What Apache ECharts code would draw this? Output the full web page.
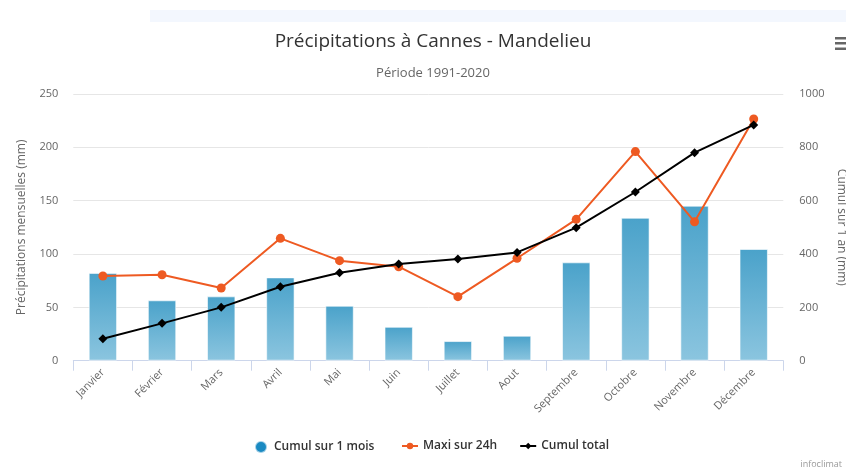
<!DOCTYPE html>
<html>
<head>
<meta charset="utf-8">
<script src="https://cdn.jsdelivr.net/npm/echarts@6/dist/echarts.min.js"></script>
<style>
  html, body { margin: 0; padding: 0; background: #fff; }
  #chart { width: 846px; height: 471px; }
</style>
</head>
<body>
<div id="chart"></div>
<script>
// Monthly precipitation normals, Cannes - Mandelieu, 1991-2020
const months = ['Janvier', 'Février', 'Mars', 'Avril', 'Mai', 'Juin', 'Juillet', 'Aout', 'Septembre', 'Octobre', 'Novembre', 'Décembre'];
const monthlyTotal = [82.3, 56.6, 60.3, 78.1, 51.5, 31.8, 18.4, 23.4, 92.2, 134.0, 145.3, 104.7];  // mm
const max24h = [79.4, 80.6, 68.2, 114.7, 93.8, 88.1, 60.0, 96.0, 132.5, 196.0, 130.3, 226.6];      // mm
const runningTotal = [82.5, 140, 200, 277.5, 330, 362.6, 381, 406, 498.8, 632.6, 780, 884];          // mm
const leftTicks = { min: 0, max: 250, interval: 50 };
const rightTicks = { min: 0, max: 1000, interval: 200 };

const FONT = '"Open Sans", "DejaVu Sans", sans-serif';
const chart = echarts.init(document.getElementById('chart'), null, { renderer: 'canvas' });

const legendText = { fontSize: 12, fontWeight: 600, color: '#333', fontFamily: FONT };

chart.setOption({
  animation: false,
  textStyle: { fontFamily: FONT },
  title: [
    { text: 'Précipitations à Cannes - Mandelieu', left: 428, top: 27, textAlign: 'center',
      textStyle: { fontSize: 19, fontWeight: 'normal', color: '#333', fontFamily: FONT } },
    { text: 'Période 1991-2020', left: 428, top: 62, textAlign: 'center',
      textStyle: { fontSize: 13, fontWeight: 'normal', color: '#666', fontFamily: FONT } }
  ],
  graphic: [
    { type: 'rect', shape: { x: 150, y: 10, width: 696, height: 12 }, style: { fill: '#f3f7fe' }, silent: true },
    { type: 'rect', shape: { x: 835, y: 37, width: 11, height: 2.5 }, style: { fill: '#666' }, silent: true },
    { type: 'rect', shape: { x: 835, y: 42, width: 11, height: 2.5 }, style: { fill: '#666' }, silent: true },
    { type: 'rect', shape: { x: 835, y: 47.5, width: 11, height: 2.5 }, style: { fill: '#666' }, silent: true },
    { type: 'text', right: 4, bottom: 2, style: { text: 'infoclimat', fontSize: 9, fill: '#999', fontFamily: FONT } }
  ],
  grid: { left: 73.3, right: 62.7, top: 94, bottom: 110.3, containLabel: false, outerBoundsMode: 'none' },
  legend: [
    {
      left: 249, bottom: 12,
      itemWidth: 16, itemHeight: 12,
      textStyle: legendText,
      data: [{ name: 'Cumul sur 1 mois', icon: 'circle', itemStyle: { color: '#1a8ac2' } }]
    },
    {
      left: 396, bottom: 14,
      itemWidth: 16, itemHeight: 8, itemGap: 22,
      textStyle: legendText,
      data: ['Maxi sur 24h', 'Cumul total']
    }
  ],
  xAxis: {
    type: 'category',
    data: months,
    boundaryGap: true,
    axisLine: { lineStyle: { color: '#ccd6eb', width: 1 } },
    axisTick: { show: true, length: 10, lineStyle: { color: '#ccd6eb' } },
    axisLabel: { rotate: 45, fontSize: 11, color: '#666', margin: 10, interval: 0, fontFamily: FONT },
    splitLine: { show: false }
  },
  yAxis: [
    {
      type: 'value', position: 'left',
      min: leftTicks.min, max: leftTicks.max, interval: leftTicks.interval,
      name: 'Précipitations mensuelles (mm)', nameLocation: 'middle', nameGap: 46, nameRotate: 90,
      nameTextStyle: { fontSize: 12, color: '#666', fontFamily: FONT },
      axisLine: { show: false }, axisTick: { show: false },
      axisLabel: { fontSize: 11, color: '#666', margin: 15, fontFamily: FONT },
      splitLine: { lineStyle: { color: '#e6e6e6', width: 1 } }
    },
    {
      type: 'value', position: 'right',
      min: rightTicks.min, max: rightTicks.max, interval: rightTicks.interval,
      name: 'Cumul sur 1 an (mm)', nameLocation: 'middle', nameGap: 50, nameRotate: -90,
      nameTextStyle: { fontSize: 12, color: '#666', fontFamily: FONT },
      axisLine: { show: false }, axisTick: { show: false },
      axisLabel: { fontSize: 11, color: '#666', margin: 16, fontFamily: FONT, formatter: v => String(v) },
      splitLine: { show: false }
    }
  ],
  series: [
    {
      name: 'Cumul sur 1 mois', type: 'bar', yAxisIndex: 0,
      data: monthlyTotal, barWidth: '48%',
      itemStyle: {
        color: new echarts.graphic.LinearGradient(0, 0, 0, 1, [
          { offset: 0, color: '#4aa2ca' },
          { offset: 1, color: '#8bc5df' }
        ]),
        borderColor: 'rgba(255,255,255,0.6)', borderWidth: 1
      },
      z: 1
    },
    {
      name: 'Maxi sur 24h', type: 'line', yAxisIndex: 0,
      data: max24h,
      color: '#ee5a22',
      lineStyle: { color: '#ee5a22', width: 2 },
      symbol: 'circle', symbolSize: 9,
      itemStyle: { color: '#ee5a22' },
      z: 3
    },
    {
      name: 'Cumul total', type: 'line', yAxisIndex: 1,
      data: runningTotal,
      color: '#000',
      lineStyle: { color: '#000', width: 2 },
      symbol: 'diamond', symbolSize: 9,
      itemStyle: { color: '#000' },
      z: 4
    }
  ]
});
</script>
</body>
</html>
